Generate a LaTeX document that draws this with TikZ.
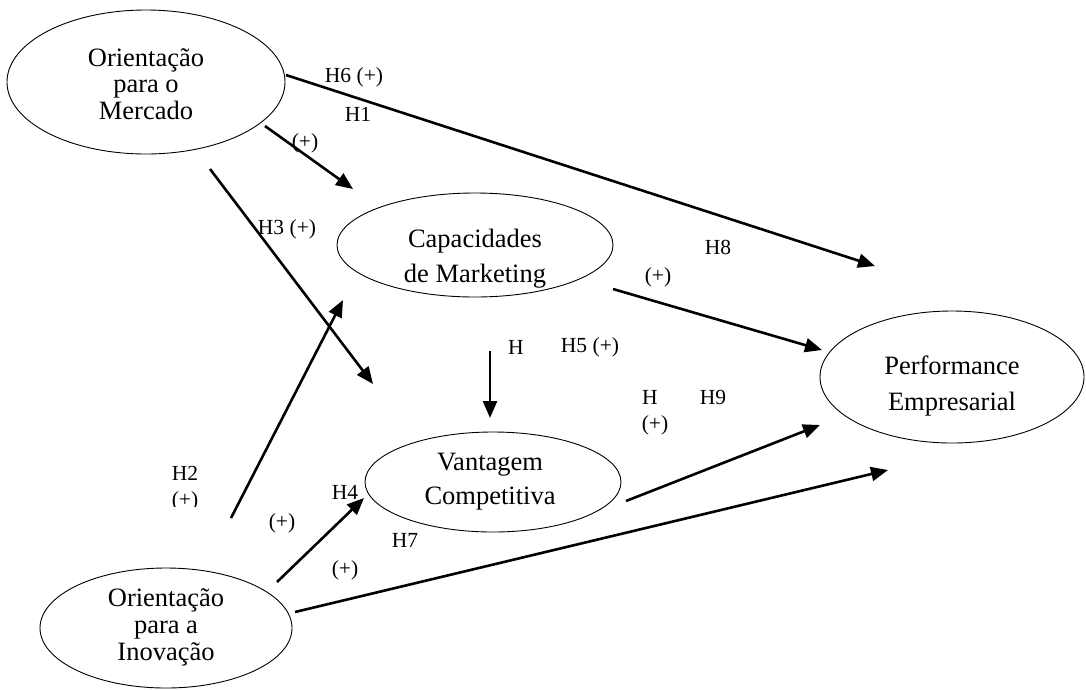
\documentclass[tikz,border=0pt]{standalone}
\usepackage{fontspec}
\setmainfont{Liberation Serif}
\usetikzlibrary{shapes.geometric,arrows.meta}
\begin{document}
\begin{tikzpicture}[x=1pt,y=-1pt,
  construct/.style={ellipse,draw,line width=0.9pt,inner sep=0pt},
  ctext/.style={align=center,inner sep=0pt,font=\fontsize{26.5}{#1}\selectfont},
  lbl/.style={font=\fontsize{21.5}{24}\selectfont,inner sep=0pt},
  path/.style={line width=2.6pt,-{Triangle[length=17pt,width=14pt]}}]
\useasboundingbox (0,0) rectangle (1086,689);
% constructs
\node[construct,minimum width=278pt,minimum height=144pt] (om) at (146,82) {};
\node[construct,minimum width=276pt,minimum height=104pt] (cm) at (475,245) {};
\node[construct,minimum width=256pt,minimum height=100pt] (vc) at (493,482) {};
\node[construct,minimum width=264pt,minimum height=132pt] (pe) at (952,377) {};
\node[construct,minimum width=252pt,minimum height=120pt] (oi) at (166,628) {};
\node[ctext=26.5] (omt) at (146,84) {Orientação\\para o\\Mercado};
\node[ctext=35] (cmt) at (475,259) {Capacidades\\de Marketing};
\node[ctext=34] (vct) at (490,482) {Vantagem\\Competitiva};
\node[ctext=36] (pet) at (952,386) {Performance\\Empresarial};
\node[ctext=27] (oit) at (166,627) {Orientação\\para a\\Inovação};
% connector end points
\coordinate (h6s) at (286,75);  \coordinate (h6e) at (875,266);
\coordinate (h1s) at (265,126); \coordinate (h1e) at (353,189);
\coordinate (h3s) at (210,169); \coordinate (h3e) at (373,384);
\coordinate (h2s) at (231,518); \coordinate (h2e) at (343,300);
\coordinate (h5s) at (490,351); \coordinate (h5e) at (490,418);
\coordinate (h8s) at (613,289); \coordinate (h8e) at (822,350);
\coordinate (h9s) at (626,501); \coordinate (h9e) at (820,425);
\coordinate (h4s) at (277,582); \coordinate (h4e) at (364,498);
\coordinate (h7s) at (295,612); \coordinate (h7e) at (888,470);
\draw[path] (h6s) -- (h6e);
\draw[path] (h1s) -- (h1e);
\draw[path] (h3s) -- (h3e);
\draw[path] (h2s) -- (h2e);
\draw[path] (h5s) -- (h5e);
\draw[path] (h8s) -- (h8e);
\draw[path] (h9s) -- (h9e);
\draw[path] (h4s) -- (h4e);
\draw[path] (h7s) -- (h7e);
% labels
\node[lbl] (l6) at (354,77) {H6 (+)};
\node[lbl] (l1) at (358,114) {H1};
\node[lbl] (l1p) at (305,143) {(+)};
\node[lbl] (l3) at (287,229) {H3 (+)};
\node[lbl] (l8) at (718,247) {H8};
\node[lbl] (l8p) at (658,277) {(+)};
\node[lbl] (l5a) at (516,347) {H};
\node[lbl] (l5) at (590,347) {H5 (+)};
\node[lbl] (l9a) at (650,397) {H};
\node[lbl] (l9) at (713,397) {H9};
\node[lbl] (l9p) at (655,425) {(+)};
\node[lbl] (l2) at (185,473) {H2};
\begin{scope}
\clip (150,480) rectangle (220,506);
\node[lbl] (l2p) at (185,501) {(+)};
\end{scope}
\node[lbl] (l4p) at (282,523) {(+)};
\node[lbl] (l4) at (345,492) {H4};
\node[lbl] (l7) at (405,540) {H7};
\node[lbl] (l7p) at (345,570) {(+)};
\end{tikzpicture}
\end{document}
